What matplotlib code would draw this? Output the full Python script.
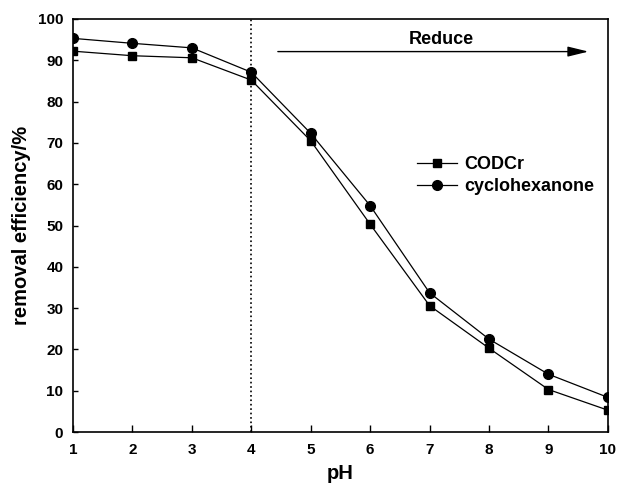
import matplotlib
matplotlib.use('Agg')
import matplotlib.pyplot as plt

plt.rcParams['font.family'] = ['Liberation Sans', 'DejaVu Sans']
plt.rcParams['font.weight'] = 'bold'

ph = [1, 2, 3, 4, 5, 6, 7, 8, 9, 10]
codcr = [92.2, 91.1, 90.6, 85.2, 70.5, 50.3, 30.6, 20.3, 10.3, 5.3]
cyclohexanone = [95.3, 94.1, 93.0, 87.1, 72.3, 54.8, 33.7, 22.5, 14.0, 8.4]

fig = plt.figure(figsize=(6.19, 4.86), dpi=100)
ax = fig.add_axes([0.118, 0.111, 0.864, 0.850])

ax.plot(ph, codcr, color='black', lw=0.9, marker='s', ms=6, label='CODCr')
ax.plot(ph, cyclohexanone, color='black', lw=0.9, marker='o', ms=7, label='cyclohexanone')

ax.axvline(4, color='black', ls=':', lw=1.2)
ax.annotate('', xy=(9.72, 92.1), xytext=(4.4, 92.1),
            arrowprops=dict(arrowstyle='-|>,head_length=0.9,head_width=0.22',
                            color='black', lw=1.0, mutation_scale=14))
ax.text(7.19, 95, 'Reduce', ha='center', va='center', fontsize=13, fontweight='bold')

ax.set_xlim(1, 10)
ax.set_ylim(0, 100)
ax.set_xticks(range(1, 11))
ax.set_yticks(range(0, 101, 10))
ax.tick_params(direction='in', width=1, labelsize=11, top=False, right=False)
ax.tick_params(axis='x', length=5, pad=8)
ax.tick_params(axis='y', length=3.5, pad=7)
for s in ax.spines.values():
    s.set_linewidth(1.2)

ax.set_xlabel('pH', fontsize=14.5, fontweight='bold', labelpad=5)
ax.set_ylabel('removal efficiency/%', fontsize=14.5, fontweight='bold', labelpad=5)

ax.legend(loc='center left', bbox_to_anchor=(0.643, 0.620), frameon=False,
          fontsize=13, handlelength=2.2, handletextpad=0.4, labelspacing=0.28,
          borderpad=0, borderaxespad=0)

fig.savefig('out.png', dpi=100)
